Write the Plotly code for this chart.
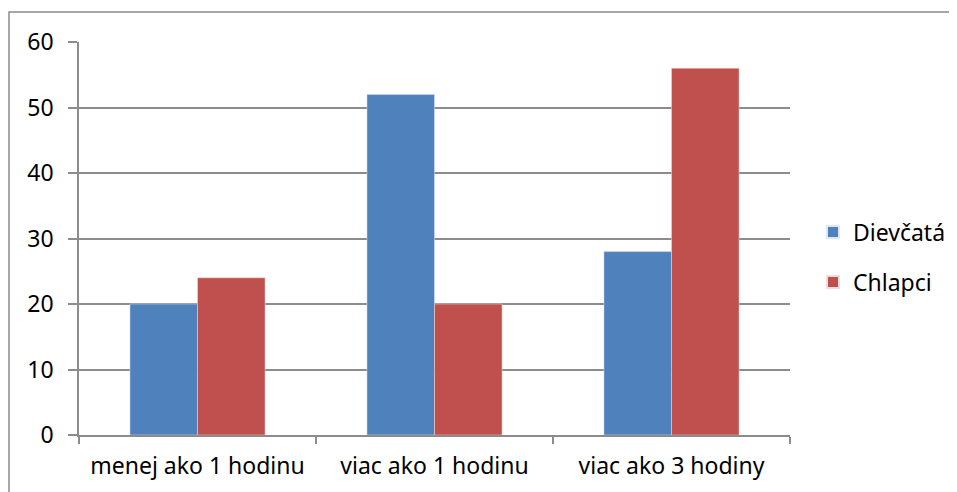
import plotly.graph_objects as go

categories = ["menej ako 1 hodinu", "viac ako 1 hodinu", "viac ako 3 hodiny"]
dievcata = [20, 52, 28]
chlapci = [24, 20, 56]
series_names = ["Dievčatá", "Chlapci"]
y_ticks = [0, 10, 20, 30, 40, 50, 60]

OFF = 8  # page body margin
W, H = 957 - OFF, 492 - OFF
# desired screen-space plot area: x 79..790, y 42..435
L, T = 79 - OFF, 42 - OFF
R = W - (790 - OFF)
B = H - (435 - OFF)
pw, ph = W - L - R, H - T - B

def sx(px):
    return (px - OFF - L) / pw

def sy(py):
    return (H - B - (py - OFF)) / ph

FONT = "Noto Sans"
FS = 23
GRID = "#8c8c8c"

fig = go.Figure()
fig.add_trace(go.Bar(x=categories, y=dievcata, name=series_names[0],
                     marker=dict(color="#4F81BD", line=dict(color="#dfe7f2", width=0.5)),
                     legend="legend", showlegend=True))
fig.add_trace(go.Bar(x=categories, y=chlapci, name=series_names[1],
                     marker=dict(color="#C0504D", line=dict(color="#f0dcdb", width=0.5)),
                     legend="legend2", showlegend=True))

# outer frame (cropped on right/bottom in reference)
fig.add_shape(type="rect", xref="paper", yref="paper",
              x0=sx(9), x1=sx(990), y0=sy(520), y1=sy(12),
              line=dict(color="#8a8a8a", width=1.5), fillcolor="rgba(0,0,0,0)", layer="below")

leg_common = dict(font=dict(family=FONT, size=FS, color="#000"), bgcolor="rgba(0,0,0,0)",
                  xanchor="left", yanchor="middle", itemsizing="constant")
fig.update_layout(
    width=W, height=H,
    margin=dict(l=L, r=R, t=T, b=B, autoexpand=False),
    paper_bgcolor="white", plot_bgcolor="white",
    barmode="group", bargap=0.43, bargroupgap=0,
    font=dict(family=FONT, size=FS, color="#000"),
    showlegend=True,
    legend=dict(x=sx(813), y=sy(232), **leg_common),
    legend2=dict(x=sx(813), y=sy(282), **leg_common),
    xaxis=dict(type="category", showline=True, linecolor=GRID, linewidth=1.5,
               ticks="outside", tickson="boundaries", ticklen=7, tickcolor=GRID, tickwidth=1.5,
               showgrid=False, ticklabelstandoff=10,
               tickfont=dict(family=FONT, size=FS, color="#000")),
    yaxis=dict(range=[0, 60], tickvals=y_ticks, showline=True, linecolor=GRID, linewidth=1.5,
               ticks="outside", ticklen=9, tickcolor=GRID, tickwidth=1.5,
               showgrid=True, gridcolor=GRID, gridwidth=1.5, zeroline=False,
               ticklabelstandoff=10, tickfont=dict(family=FONT, size=FS, color="#000")),
)

fig.write_html("out.html")
